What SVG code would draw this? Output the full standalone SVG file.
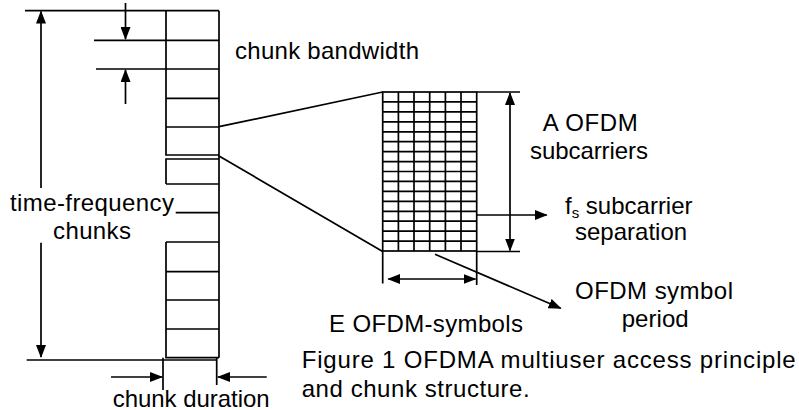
<svg xmlns="http://www.w3.org/2000/svg" width="799" height="410" viewBox="0 0 799 410">
<style>
  .ln { stroke:#000; stroke-width:1.7; fill:none; }
  .txt { font-family:"Liberation Sans", Arial, Helvetica, sans-serif; font-size:24px; fill:#000; }
  .arr { marker-end:url(#ah); }
  .darr { marker-start:url(#ah); marker-end:url(#ah); }
</style>
<defs>
  <marker id="ah" viewBox="0 0 13 10" refX="12" refY="5" markerWidth="13" markerHeight="10" markerUnits="userSpaceOnUse" orient="auto-start-reverse">
    <path d="M0,0 L13,5 L0,10 z" fill="#000"/>
  </marker>
</defs>
<rect width="799" height="410" fill="#fff"/>

<g id="chunk-column" class="ln">
  <path d="M166,10.7 V155 H219 M166,127 H219 M166,98.3 H219"/>
  <path d="M219,10.7 V357.7"/>
  <path d="M166,184 V159 H219 M166,184 H219 M175.7,212.7 H219 M166,242 H219 M166,242 V357.7 H219 M166,271.7 H219 M166,300 H219 M166,329 H219"/>
</g>

<g id="ofdm-grid" class="ln">
  <rect x="382.7" y="92" width="94" height="159"/>
  <path d="M398.4,92 V251 M414.0,92 V251 M429.7,92 V251 M445.4,92 V251 M461.0,92 V251"/>
  <path d="M382.7,101.9 H476.7 M382.7,111.9 H476.7 M382.7,121.8 H476.7 M382.7,131.8 H476.7 M382.7,141.7 H476.7 M382.7,151.6 H476.7 M382.7,161.6 H476.7 M382.7,171.5 H476.7 M382.7,181.4 H476.7 M382.7,191.4 H476.7 M382.7,201.3 H476.7 M382.7,211.3 H476.7 M382.7,221.2 H476.7 M382.7,231.1 H476.7 M382.7,241.1 H476.7"/>
</g>

<g id="connectors" class="ln">
  <!-- zoom lines from chunk to grid -->
  <path d="M219,126.7 L382.7,92"/>
  <path d="M219,156 L382.7,251.5"/>
  <!-- time-frequency chunks dimension -->
  <path d="M25,10.7 H219"/>
  <path d="M26.7,360 H216.7"/>
  <path d="M41,188 V11.5" class="ln arr"/>
  <path d="M41,242.7 V357" class="ln arr"/>
  <!-- chunk bandwidth -->
  <path d="M94,40.3 H219 M96,69 H219"/>
  <path d="M125.5,3 V39" class="ln arr"/>
  <path d="M125.5,104 V70" class="ln arr"/>
  <!-- chunk duration -->
  <path d="M163,357.7 V390 M216.7,357.7 V385"/>
  <path d="M111,377 H162" class="ln arr"/>
  <path d="M266.7,377 H218" class="ln arr"/>
  <!-- A OFDM subcarriers -->
  <path d="M476.7,92 H520 M476.7,251.5 H520"/>
  <path d="M510,93 V250.5" class="ln darr"/>
  <!-- subcarrier separation -->
  <path d="M476.7,215 H546.7" class="ln arr"/>
  <!-- E OFDM symbols -->
  <path d="M382.7,251 V283.5 M476.7,251 V285"/>
  <path d="M388.3,279 H475.5" class="ln darr"/>
  <!-- OFDM symbol period -->
  <path d="M435,254.3 L560.7,308.3" class="ln arr"/>
</g>

<g id="label-chunk-bandwidth"><text class="txt" x="235" y="59" textLength="184">chunk bandwidth</text></g>
<g id="label-time-frequency">
  <text class="txt" x="10" y="211" textLength="164">time-frequency</text>
  <text class="txt" x="53" y="239" textLength="78">chunks</text>
</g>
<g id="label-chunk-duration"><text class="txt" x="112.7" y="406.5" textLength="157">chunk duration</text></g>
<g id="label-subcarriers">
  <text class="txt" x="542.7" y="131" textLength="95">A OFDM</text>
  <text class="txt" x="530" y="158.5" textLength="118">subcarriers</text>
</g>
<g id="label-separation">
  <text class="txt" x="565" y="214">f<tspan font-size="15" dy="4">s</tspan><tspan dy="-4"> subcarrier</tspan></text>
  <text class="txt" x="575" y="240">separation</text>
</g>
<g id="label-symbol-period">
  <text class="txt" x="575" y="299" textLength="158">OFDM symbol</text>
  <text class="txt" x="621.7" y="327" textLength="67">period</text>
</g>
<g id="label-e-symbols"><text class="txt" x="329" y="332" textLength="194">E OFDM-symbols</text></g>
<g id="caption">
  <text class="txt" x="301.7" y="368.3" textLength="494">Figure 1 OFDMA multiuser access principle</text>
  <text class="txt" x="301.7" y="396.7" textLength="228">and chunk structure.</text>
</g>
</svg>
